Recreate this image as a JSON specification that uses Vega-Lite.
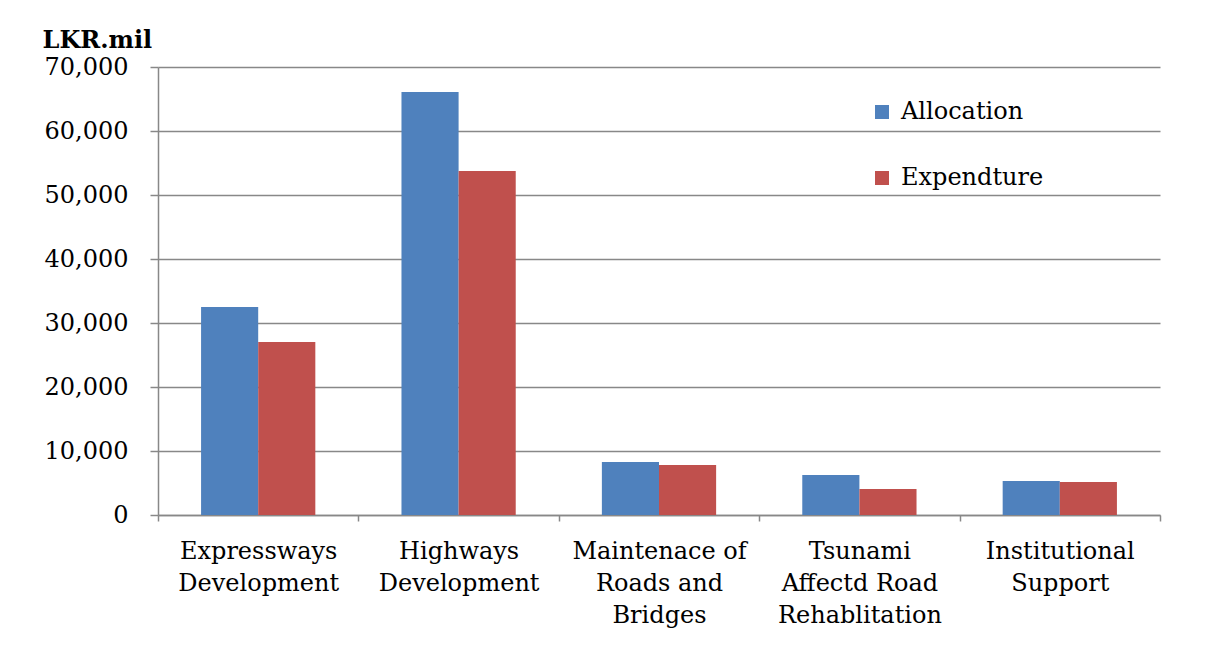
{
  "$schema": "https://vega.github.io/schema/vega-lite/v6.json",
  "width": 1002,
  "height": 448,
  "autosize": {"type": "none"},
  "padding": {"left": 158, "top": 67, "right": 57, "bottom": 144},
  "background": "white",
  "config": {"view": {"stroke": null}, "font": "DejaVu Serif"},
  "data": {
    "values": [
      {"program": "Expressways|Development", "series": "Allocation", "value": 32500},
      {"program": "Expressways|Development", "series": "Expendture", "value": 27050},
      {"program": "Highways|Development", "series": "Allocation", "value": 66100},
      {"program": "Highways|Development", "series": "Expendture", "value": 53750},
      {"program": "Maintenace of|Roads and|Bridges", "series": "Allocation", "value": 8280},
      {"program": "Maintenace of|Roads and|Bridges", "series": "Expendture", "value": 7800},
      {"program": "Tsunami|Affectd Road|Rehablitation", "series": "Allocation", "value": 6250},
      {"program": "Tsunami|Affectd Road|Rehablitation", "series": "Expendture", "value": 4050},
      {"program": "Institutional|Support", "series": "Allocation", "value": 5300},
      {"program": "Institutional|Support", "series": "Expendture", "value": 5150}
    ]
  },
  "mark": {"type": "bar"},
  "encoding": {
    "x": {
      "field": "program",
      "type": "nominal",
      "sort": null,
      "scale": {"paddingInner": 0, "paddingOuter": 0},
      "axis": {
        "title": null,
        "labelAngle": 0,
        "tickBand": "extent",
        "labelExpr": "split(datum.label, '|')",
        "labelFontSize": 24,
        "labelLineHeight": 32,
        "labelColor": "black",
        "labelPadding": 18,
        "labelBaseline": "top",
        "labelLimit": 0,
        "tickSize": 6,
        "tickColor": "#888888",
        "tickWidth": 1.5,
        "domainColor": "#888888",
        "domainWidth": 1.5,
        "grid": false
      }
    },
    "xOffset": {
      "field": "series",
      "type": "nominal",
      "sort": ["Allocation", "Expendture"],
      "scale": {"paddingInner": 0, "paddingOuter": 0.754}
    },
    "y": {
      "field": "value",
      "type": "quantitative",
      "scale": {"domain": [0, 70000], "nice": false},
      "axis": {
        "values": [0, 10000, 20000, 30000, 40000, 50000, 60000, 70000],
        "format": ",d",
        "title": "LKR.mil",
        "titleAngle": 0,
        "titleAlign": "left",
        "titleBaseline": "alphabetic",
        "titleX": -116,
        "titleY": -20,
        "titleFontSize": 24,
        "titleFontWeight": "bold",
        "titleColor": "black",
        "labelFontSize": 24,
        "labelColor": "black",
        "labelPadding": 22,
        "tickSize": 8,
        "tickColor": "#888888",
        "tickWidth": 1.5,
        "domainColor": "#888888",
        "domainWidth": 1.5,
        "gridColor": "#888888",
        "gridWidth": 1.5
      }
    },
    "color": {
      "field": "series",
      "type": "nominal",
      "sort": ["Allocation", "Expendture"],
      "scale": {"range": ["#4F81BD", "#C0504D"]},
      "legend": {
        "orient": "none",
        "legendX": 712,
        "legendY": 33,
        "title": null,
        "padding": 0,
        "symbolType": "square",
        "symbolSize": 196,
        "symbolStrokeWidth": 0,
        "symbolOpacity": 1,
        "labelFontSize": 24,
        "labelColor": "black",
        "labelOffset": 7,
        "rowPadding": 42
      }
    }
  }
}
